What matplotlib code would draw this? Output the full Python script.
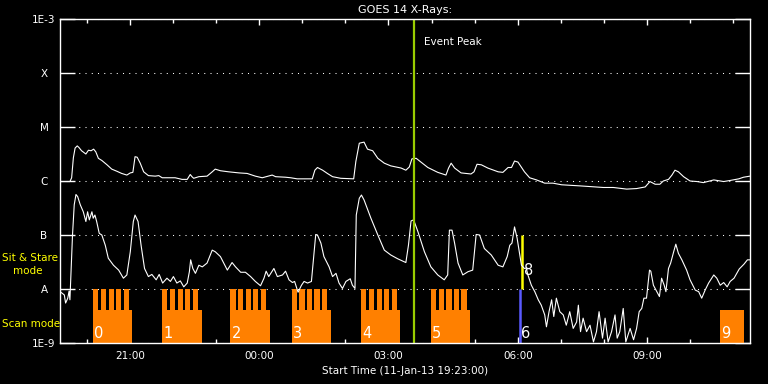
#Grafica de rayos X de GOES 14 con los periodos de observacion (scan / sit & stare)
import numpy as np
import matplotlib
matplotlib.use('Agg')
import matplotlib.pyplot as plt
import matplotlib.dates as mdates
from matplotlib.ticker import FixedLocator, NullLocator

# Tiempo de inicio del grafico
inicio = np.datetime64('2013-01-11T19:23:00')

# Canal largo (1-8 A): horas desde el inicio y log10 del flujo (W/m^2)
largo_t = [0.02, 0.23, 0.27, 0.31, 0.35, 0.40, 0.44, 0.50, 0.60, 0.66, 0.72, 0.78, 0.83, 0.89, 0.97,
           1.09, 1.20, 1.32, 1.43, 1.55, 1.63, 1.69, 1.74, 1.79, 1.86, 1.94, 2.05, 2.21, 2.29, 2.37,
           2.67, 2.83, 2.95, 3.02, 3.06, 3.10, 3.22, 3.41, 3.53, 3.60, 3.72, 3.91, 4.15, 4.34, 4.53,
           4.69, 4.92, 5.00, 5.23, 5.35, 5.50, 5.85, 5.91, 5.97, 6.09, 6.20, 6.32, 6.51, 6.81, 6.86,
           6.94, 7.05, 7.13, 7.25, 7.37, 7.52, 7.67, 7.91, 8.02, 8.10, 8.16, 8.26, 8.37, 8.53, 8.76,
           8.95, 9.01, 9.07, 9.15, 9.30, 9.53, 9.60, 9.67, 9.77, 9.92, 10.16, 10.27, 10.39, 10.47,
           10.54, 10.62, 10.77, 10.89, 11.05, 11.24, 11.43, 11.63, 12.05, 12.60, 12.83, 13.14, 13.37,
           13.57, 13.68, 13.80, 13.91, 13.99, 14.11, 14.19, 14.26, 14.34, 14.46, 14.61, 14.77, 14.92,
           15.16, 15.39, 15.54, 15.74, 15.85, 16.00]
largo_log = [-6.01, -6.01, -5.94, -5.57, -5.39, -5.35, -5.38, -5.44, -5.50, -5.43, -5.44, -5.41, -5.46,
             -5.58, -5.62, -5.70, -5.78, -5.82, -5.86, -5.89, -5.85, -5.84, -5.55, -5.56, -5.67, -5.83,
             -5.90, -5.91, -5.90, -5.94, -5.94, -5.97, -5.97, -5.88, -5.92, -5.95, -5.92, -5.91, -5.83,
             -5.78, -5.81, -5.83, -5.85, -5.86, -5.91, -5.94, -5.89, -5.92, -5.93, -5.94, -5.96, -5.96,
             -5.80, -5.75, -5.80, -5.86, -5.92, -5.95, -5.96, -5.64, -5.30, -5.28, -5.41, -5.44, -5.58,
             -5.67, -5.72, -5.76, -5.80, -5.74, -5.59, -5.58, -5.65, -5.75, -5.84, -5.89, -5.76, -5.67,
             -5.76, -5.85, -5.87, -5.83, -5.69, -5.70, -5.76, -5.83, -5.84, -5.75, -5.75, -5.63, -5.65,
             -5.83, -5.94, -5.98, -6.04, -6.04, -6.07, -6.09, -6.12, -6.12, -6.15, -6.14, -6.11, -6.01,
             -6.06, -6.06, -6.00, -5.97, -5.89, -5.80, -5.83, -5.92, -6.00, -6.01, -6.03, -5.98, -6.01,
             -5.99, -5.96, -5.93, -5.91]

# Canal corto (0.5-4 A)
corto_t = [0.02, 0.10, 0.13, 0.18, 0.21, 0.23, 0.26, 0.29, 0.33, 0.37, 0.41, 0.47, 0.54, 0.60, 0.64,
           0.68, 0.74, 0.77, 0.81, 0.85, 0.91, 0.97, 1.05, 1.12, 1.24, 1.36, 1.47, 1.55, 1.63, 1.70,
           1.74, 1.81, 1.88, 1.96, 2.05, 2.13, 2.23, 2.30, 2.38, 2.48, 2.56, 2.63, 2.71, 2.79, 2.87,
           2.95, 3.00, 3.03, 3.08, 3.14, 3.22, 3.30, 3.41, 3.53, 3.60, 3.72, 3.88, 3.99, 4.07, 4.19,
           4.30, 4.42, 4.53, 4.65, 4.73, 4.78, 4.84, 4.96, 5.04, 5.16, 5.23, 5.31, 5.39, 5.44, 5.52,
           5.60, 5.66, 5.74, 5.83, 5.88, 5.93, 5.97, 6.05, 6.12, 6.24, 6.32, 6.40, 6.47, 6.55, 6.63,
           6.73, 6.78, 6.84, 6.87, 6.94, 6.99, 7.05, 7.21, 7.37, 7.52, 7.67, 7.83, 8.02, 8.08, 8.14,
           8.20, 8.30, 8.45, 8.60, 8.76, 8.91, 8.99, 9.03, 9.09, 9.15, 9.23, 9.34, 9.46, 9.57, 9.65,
           9.73, 9.84, 10.00, 10.16, 10.27, 10.37, 10.43, 10.48, 10.54, 10.60, 10.70, 10.77, 10.81,
           10.85, 10.93, 11.01, 11.09, 11.16, 11.24, 11.28, 11.34, 11.40, 11.45, 11.51, 11.59, 11.67,
           11.74, 11.82, 11.90, 11.98, 12.02, 12.07, 12.13, 12.21, 12.29, 12.37, 12.44, 12.50, 12.58,
           12.64, 12.71, 12.79, 12.87, 12.92, 12.98, 13.06, 13.12, 13.22, 13.30, 13.37, 13.43, 13.49,
           13.54, 13.60, 13.67, 13.70, 13.76, 13.84, 13.90, 13.95, 14.01, 14.05, 14.11, 14.16, 14.23,
           14.28, 14.34, 14.42, 14.53, 14.61, 14.73, 14.81, 14.88, 14.96, 15.04, 15.16, 15.23, 15.31,
           15.39, 15.47, 15.54, 15.63, 15.75, 15.86, 15.94, 16.00]
corto_log = [-8.06, -8.11, -8.26, -8.17, -8.04, -8.20, -7.62, -7.00, -6.44, -6.25, -6.29, -6.44, -6.57,
             -6.75, -6.57, -6.72, -6.57, -6.69, -6.63, -6.75, -6.97, -7.00, -7.19, -7.43, -7.56, -7.65,
             -7.80, -7.74, -7.31, -6.75, -6.63, -6.75, -7.19, -7.62, -7.77, -7.73, -7.83, -7.73, -7.89,
             -7.80, -7.86, -7.77, -7.89, -7.85, -7.96, -7.89, -7.68, -7.46, -7.62, -7.71, -7.56, -7.59,
             -7.52, -7.28, -7.31, -7.40, -7.65, -7.51, -7.59, -7.69, -7.69, -7.77, -7.86, -7.94, -7.80,
             -7.67, -7.77, -7.62, -7.77, -7.74, -7.67, -7.83, -7.88, -7.86, -8.06, -7.93, -7.86, -7.89,
             -7.86, -7.43, -6.99, -7.00, -7.15, -7.40, -7.59, -7.77, -7.71, -7.89, -7.99, -7.86, -7.81,
             -7.93, -7.99, -6.63, -6.32, -6.26, -6.35, -6.69, -7.00, -7.28, -7.37, -7.44, -7.51, -7.19,
             -6.74, -6.72, -6.94, -7.31, -7.59, -7.74, -7.83, -7.74, -6.91, -6.91, -7.15, -7.52, -7.74,
             -7.68, -7.65, -6.99, -7.00, -7.25, -7.37, -7.56, -7.59, -7.40, -7.19, -7.15, -6.85, -7.06,
             -7.56, -7.62, -7.61, -7.74, -7.93, -8.05, -8.20, -8.30, -8.48, -8.70, -8.42, -8.20, -8.51,
             -8.17, -8.42, -8.48, -8.67, -8.42, -8.73, -8.61, -8.30, -8.79, -8.54, -8.79, -8.67, -8.98,
             -8.79, -8.42, -8.91, -8.54, -8.98, -8.79, -8.48, -8.91, -8.79, -8.36, -8.98, -8.73, -8.94,
             -8.73, -8.42, -8.36, -8.17, -8.17, -7.65, -7.67, -7.93, -8.05, -8.14, -7.80, -7.93, -8.05,
             -7.62, -7.52, -7.31, -7.17, -7.34, -7.46, -7.65, -7.83, -8.02, -8.05, -8.17, -8.02, -7.89,
             -7.74, -7.80, -7.93, -7.88, -7.96, -7.86, -7.80, -7.63, -7.54, -7.46, -7.46]

# Bloques de observacion en modo scan (horas desde el inicio)
scan_ini = [0.77, 2.37, 3.95, 5.37, 6.98, 8.60, 15.30]
scan_fin = [1.67, 3.30, 4.86, 6.28, 7.88, 9.51, 15.86]
scan_dientes = [True, True, True, True, True, True, False]
dientes_off = [0.0, 0.18, 0.36, 0.53, 0.71]
diente_ancho = 0.12
scan_nivel = 10 ** -8.39
stare_nivel = 1e-8

# Sit & stare (amarillo) y su parte inferior (azul)
stare_t = 10.72
azul_t = 10.67

# Numeros de las observaciones
obs_txt = ['0', '1', '2', '3', '4', '5', '6', '8', '9']
obs_t = [0.80, 2.40, 3.98, 5.40, 7.01, 8.63, 10.69, 10.76, 15.33]
obs_log = [-8.97, -8.97, -8.97, -8.97, -8.97, -8.97, -8.97, -7.80, -8.97]

pico_t = 8.21

naranja = '#ff8000'
amarillo = '#ffff00'


def a_fecha(horas):
    return mdates.date2num(inicio) + np.asarray(horas, dtype=float) / 24.0


plt.rcParams['font.family'] = 'DejaVu Sans'
fig = plt.figure(figsize=(7.68, 3.84), dpi=100, facecolor='black')
ax = fig.add_axes([60 / 768, 1 - 343 / 384, 690 / 768, 324 / 384], facecolor='black')

# Bloques naranjas
for s, e, d in zip(scan_ini, scan_fin, scan_dientes):
    ax.bar(a_fecha(s), scan_nivel - 1e-9, bottom=1e-9, width=(e - s) / 24, align='edge',
           color=naranja, lw=0, zorder=2)
    if d:
        for off in dientes_off:
            ax.bar(a_fecha(s + off), stare_nivel - 1e-9, bottom=1e-9, width=diente_ancho / 24,
                   align='edge', color=naranja, lw=0, zorder=2)

ax.vlines(a_fecha(azul_t), 1e-9, 1e-8, color='#5a5aff', lw=1.8, zorder=3)
ax.vlines(a_fecha(stare_t), 1e-8, 1e-7, color=amarillo, lw=1.8, zorder=3)

ax.plot(a_fecha(largo_t), 10 ** np.array(largo_log), color='white', lw=0.8, zorder=3)
ax.plot(a_fecha(corto_t), 10 ** np.array(corto_log), color='white', lw=0.8, zorder=3)

ax.axvline(a_fecha(pico_t), color='#99cc00', lw=1.6, zorder=4)
ax.text(a_fecha(pico_t + 0.23), 10 ** -3.43, 'Event Peak', color='white', fontsize=7.5,
        va='center', ha='left')

for txt, t, lg in zip(obs_txt, obs_t, obs_log):
    ax.text(a_fecha(t), 10 ** lg, txt, color='white', fontsize=10.5, va='bottom', ha='left',
            zorder=5)

# Ejes
ax.set_yscale('log')
ax.set_ylim(1e-9, 1e-3)
ax.set_xlim(a_fecha(0), a_fecha(16))
ax.yaxis.set_major_locator(FixedLocator(10.0 ** np.arange(-9, -2)))
ax.yaxis.set_minor_locator(NullLocator())
ax.set_yticklabels(['1E-9', 'A', 'B', 'C', 'M', 'X', '1E-3'])
for lab in ax.get_yticklabels():
    lab.set_horizontalalignment('center')
ax.xaxis.set_major_locator(mdates.HourLocator(byhour=range(0, 24, 3)))
ax.xaxis.set_minor_locator(mdates.HourLocator())
ax.xaxis.set_major_formatter(mdates.DateFormatter('%H:%M'))

ax.grid(axis='y', which='major', color='white', linestyle=(0, (1, 5)), lw=0.75, zorder=1)
ax.tick_params(axis='y', which='major', direction='in', length=10.8, width=1, color='white',
               left=True, right=True, labelsize=7.5, labelcolor='white', pad=11.5)
ax.tick_params(axis='x', which='major', direction='in', length=4.3, width=1, color='white',
               top=True, bottom=True, labelsize=7.5, labelcolor='white', pad=6)
ax.tick_params(axis='x', which='minor', direction='in', length=2.8, width=1, color='white',
               top=True, bottom=True)
for sp in ax.spines.values():
    sp.set_color('white')
    sp.set_linewidth(1)
    sp.set_zorder(6)

ax.set_title('GOES 14 X-Rays:', color='white', fontsize=8, pad=4)
ax.set_xlabel('Start Time (11-Jan-13 19:23:00)', color='white', fontsize=7.5, labelpad=3)

fig.text(2 / 768, 1 - 258 / 384, 'Sit & Stare', color=amarillo, fontsize=7.5, va='center', ha='left')
fig.text(13 / 768, 1 - 271 / 384, 'mode', color=amarillo, fontsize=7.5, va='center', ha='left')
fig.text(2 / 768, 1 - 324 / 384, 'Scan mode', color=amarillo, fontsize=7.5, va='center', ha='left')

plt.savefig('out.png', dpi=100, facecolor='black')
